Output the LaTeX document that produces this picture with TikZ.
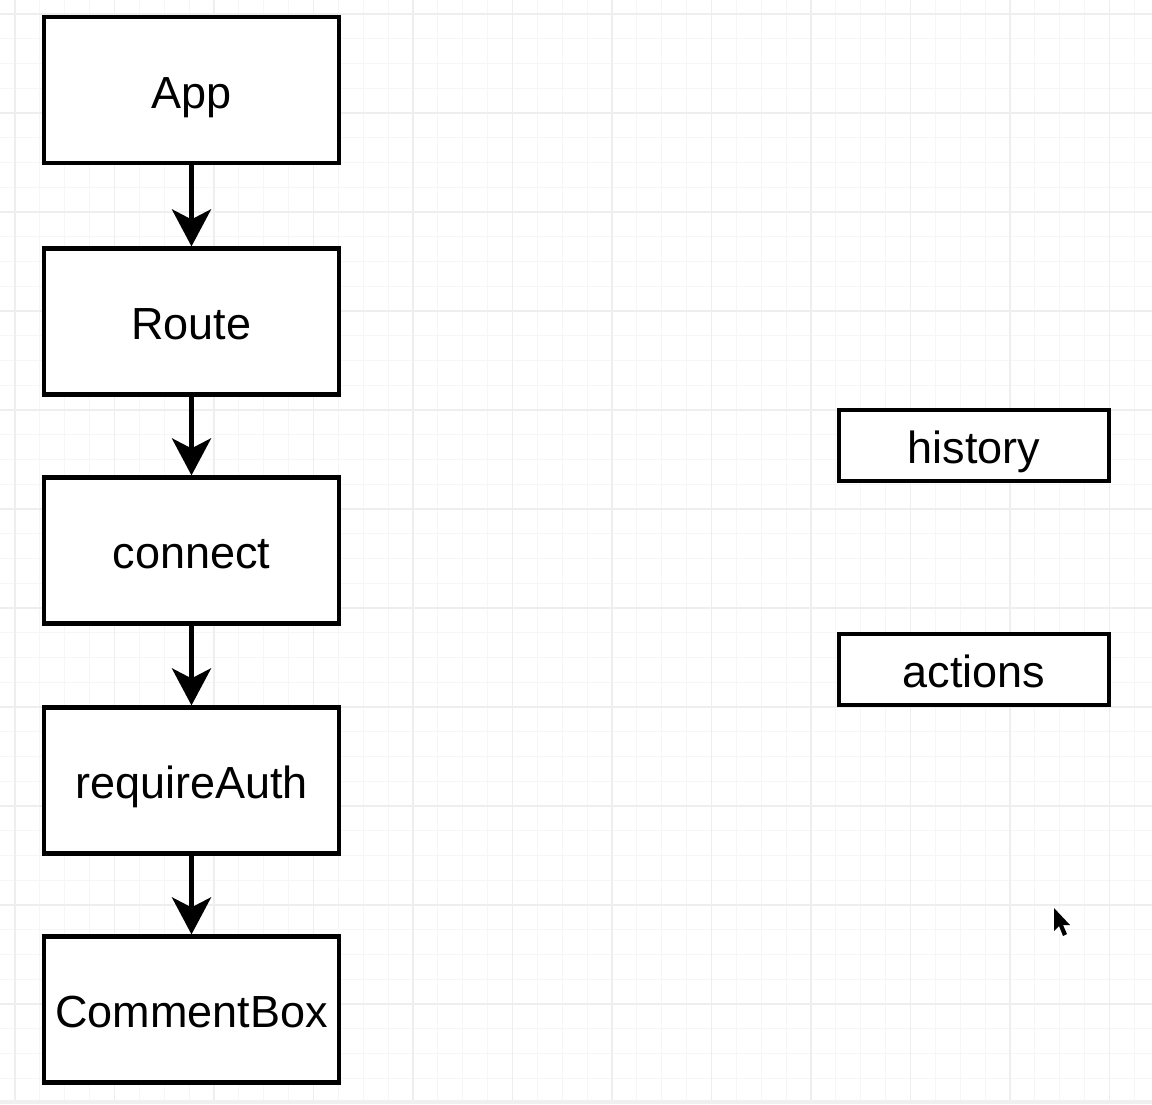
\documentclass[tikz,border=0pt]{standalone}
\usepackage{fontspec}
\setmainfont{Liberation Sans}
\usetikzlibrary{arrows.meta}
\begin{document}
\begin{tikzpicture}[x=1pt,y=-1pt,
  box/.style={draw=black, line width=4.2pt, fill=white, minimum width=295pt, minimum height=146pt, inner sep=0pt, text height=36pt, text depth=0pt, font=\fontsize{45}{52}\selectfont},
  sbox/.style={box, minimum width=270pt, minimum height=71pt},
  flow/.style={line width=5pt, -{Stealth[length=37pt,width=39pt,inset=10pt]}},
  minorline/.style={draw=gray!7, line width=1pt},
  majorline/.style={draw=gray!13, line width=1.3pt}]
\fill[white] (0,0) rectangle (1152,1104);
\useasboundingbox (0,0) rectangle (1152,1104);
% grid
\foreach \i in {-1,...,47} {
  \draw[minorline] ({15+\i*24.875},0) -- ({15+\i*24.875},1104);
}
\foreach \i in {-1,...,45} {
  \draw[minorline] (0,{14+\i*24.75}) -- (1152,{14+\i*24.75});
}
\foreach \i in {0,...,11} {
  \draw[majorline] ({15+\i*99.5},0) -- ({15+\i*99.5},1104);
}
\foreach \i in {0,...,11} {
  \draw[majorline] (0,{14+\i*99}) -- (1152,{14+\i*99});
}
\fill[gray!12] (0,1100) rectangle (1152,1104);
% nodes
\node[box] (app) at (191.5,90) {App};
\node[box] (route) at (191.5,321.5) {Route};
\node[box] (connect) at (191.5,550.5) {connect};
\node[box] (auth) at (191.5,780.5) {requireAuth};
\node[box] (comment) at (191.5,1009.5) {CommentBox};
\node[sbox] (history) at (974,445.5) {history};
\node[sbox] (actions) at (974,669.5) {actions};
% connectors
\draw[flow] (app.south) -- (route.north);
\draw[flow] (route.south) -- (connect.north);
\draw[flow] (connect.south) -- (auth.north);
\draw[flow] (auth.south) -- (comment.north);
% mouse pointer
\fill[black] (1054,908) -- (1054,931) -- (1059,926) -- (1063,936) -- (1067,934) -- (1063,925) -- (1070,925) -- cycle;
\end{tikzpicture}
\end{document}
